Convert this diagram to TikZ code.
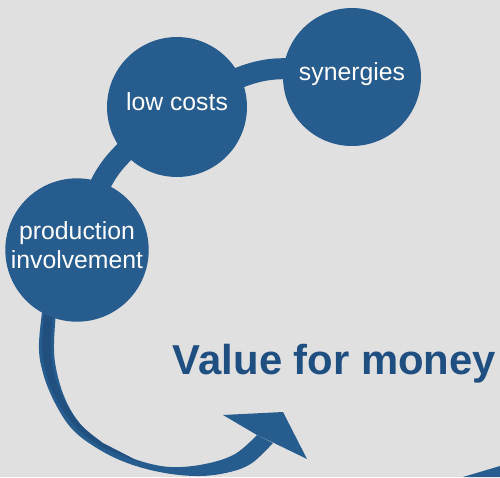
\documentclass[tikz,border=0pt]{standalone}
\usepackage{fontspec}
\setmainfont{Liberation Sans}
\definecolor{bg}{HTML}{E0E0E0}
\definecolor{blob}{HTML}{275C8E}
\definecolor{blobdark}{HTML}{21507F}
\definecolor{headline}{HTML}{1F4E80}
\begin{document}
\begin{tikzpicture}[x=0.02cm,y=-0.02cm,
        bubble/.style={circle,fill=blob,text=white,inner sep=0pt,align=center,
          font=\fontsize{14.1}{16.5}\selectfont},
        link/.style={draw=blob,line width=0.42cm}]
        \fill[bg] (0,0) rectangle (500,477);
        \useasboundingbox (0,0) rectangle (500,477);

        \coordinate (P) at (77,250);
        \coordinate (L) at (177,107);
        \coordinate (S) at (352,77);
        \coordinate (tip) at (283,412);

        % links between the bubbles
        \draw[link] (P) .. controls (103,167) .. (L);
        \draw[link] (L) .. controls (265,63) .. (S);

        % the big curved arrow
        \fill[blob] plot[smooth,tension=0.6] coordinates {(45,290) (39,343) (43,373) (55,403) (73,430) (100,450) (130,464) (165,473) (200,476) (230,472) (252,463) (273,443)}
          -- plot[smooth,tension=0.6] coordinates {(257,435) (235,454) (205,464) (170,467) (137,460) (107,447) (83,427) (67,403) (57,373) (54,343) (58,290)} -- cycle;
        \fill[blobdark] plot[smooth,tension=0.6] coordinates {(46,300) (42,343) (46,373) (57,400) (75,426) (100,446) (140,462)}
          -- plot[smooth,tension=0.6] coordinates {(103,443) (80,424) (64,400) (54,373) (51,343) (54,300)} -- cycle;
        \fill[blob] (223,415) -- (tip) -- (307,459) -- (272,442) -- (257,435) -- cycle;
        \fill[blob] (463,477) -- (500,466) -- (500,477) -- cycle;

        \node[bubble,minimum size=2.84cm,text depth=0.56em] (prod) at (P) {production\\involvement};
        \node[bubble,minimum size=2.8cm,text height=0.7em,text depth=0.3em] (low) at (L) {low costs};
        \node[bubble,minimum size=2.76cm,text height=0.7em,text depth=0.3em] (syn) at (S) {synergies};

        \node[anchor=base,text=headline,font=\fontsize{23.8}{28}\selectfont\bfseries] (title) at (334.5,374) {Value for money};
    \end{tikzpicture}
\end{document}
